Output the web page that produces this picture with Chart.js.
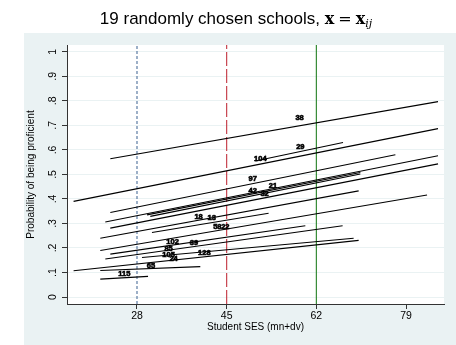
<!DOCTYPE html>
<html>
<head>
<meta charset="utf-8">
<script src="https://cdn.jsdelivr.net/npm/chart.js@4.4.1/dist/chart.umd.min.js"></script>
<style>
  html, body { margin: 0; padding: 0; background: #fff; }
  #wrap { width: 456px; height: 345px; }
</style>
</head>
<body>
<div id="wrap"><canvas id="chart" width="456" height="345"></canvas></div>
<script>
// ---------- DATA ----------
const X_MIN = 14.73;
const X_MAX = 86.2;
const Y_MIN = -0.0285;
const Y_MAX = 1.028;

const xTicks = [28, 45, 62, 79];
const yTicks = [0, 0.1, 0.2, 0.3, 0.4, 0.5, 0.6, 0.7, 0.8, 0.9, 1];
const yTickLabels = ["0", ".1", ".2", ".3", ".4", ".5", ".6", ".7", ".8", ".9", "1"];

// vertical reference lines (SES values)
const refValues = [28, 45, 62];

// one line per school: SES range and predicted probability at both ends
const lineX0 = [22.94, 15.98, 50.43, 22.94, 21.99, 22.94, 29.90, 30.52, 21.04, 21.04, 30.84, 15.98, 22.94, 21.99, 28.95, 21.04, 21.04];
const lineX1 = [85.07, 85.07, 67.06, 76.98, 85.07, 85.07, 70.34, 70.34, 70.02, 82.99, 52.95, 70.02, 59.91, 66.98, 69.07, 40.00, 30.09];
const lineP0 = [0.564, 0.390, 0.555, 0.345, 0.306, 0.281, 0.335, 0.329, 0.240, 0.190, 0.263, 0.107, 0.175, 0.155, 0.161, 0.108, 0.073];
const lineP1 = [0.797, 0.687, 0.630, 0.580, 0.576, 0.543, 0.508, 0.502, 0.433, 0.416, 0.342, 0.231, 0.291, 0.291, 0.240, 0.124, 0.084];

// school id labels
const schoolIds = ["38", "29", "104", "97", "42", "21", "32", "18", "13", "58", "22", "102", "39", "85", "105", "24", "128", "65", "115"];
const labelX = [58.83, 58.96, 51.38, 49.92, 49.92, 53.79, 52.19, 39.68, 42.15, 43.23, 44.74, 34.75, 38.81, 33.99, 33.99, 34.94, 40.76, 30.65, 25.59];
const labelY = [0.732, 0.614, 0.564, 0.481, 0.434, 0.455, 0.420, 0.326, 0.322, 0.285, 0.285, 0.223, 0.220, 0.195, 0.172, 0.155, 0.179, 0.125, 0.096];

// ---------- STYLE ----------
const SANS = "'Liberation Sans', Arial, sans-serif";
const SERIF = "'DejaVu Serif', 'Liberation Serif', serif";
const REGION_BG = "#eaf2f3";
const AXIS_COL = "#333333";
const refColors = ["#4d6f9c", "#c2323f", "#238023"];
const refDashes = [[3, 2], [14, 3], []];

// ---------- DATASETS ----------
const datasets = [];

lineX0.forEach((x0, i) => {
  datasets.push({
    data: [{ x: x0, y: lineP0[i] }, { x: lineX1[i], y: lineP1[i] }],
    showLine: true,
    borderColor: "#000",
    borderWidth: 1.1,
    pointRadius: 0,
  });
});

refValues.forEach((v, i) => {
  datasets.push({
    data: [{ x: v, y: Y_MIN }, { x: v, y: Y_MAX }],
    showLine: true,
    borderColor: refColors[i],
    borderWidth: 1.1,
    borderDash: refDashes[i],
    pointRadius: 0,
  });
});

// invisible points that carry the school id labels
datasets.push({
  data: labelX.map((x, i) => ({ x: x, y: labelY[i] })),
  showLine: false,
  pointRadius: 0,
});

// ---------- PLUGINS ----------
const backdrop = {
  id: "backdrop",
  beforeDraw(chart) {
    const { ctx, chartArea: a } = chart;
    ctx.save();
    ctx.fillStyle = "#fff";
    ctx.fillRect(0, 0, chart.width, chart.height);
    ctx.fillStyle = REGION_BG;
    ctx.fillRect(24, 33, chart.width - 24, chart.height - 33);
    ctx.fillStyle = "#fff";
    ctx.fillRect(a.left, a.top, a.right - a.left, a.bottom - a.top);
    ctx.restore();
  },
};

const titleDraw = {
  id: "titleDraw",
  afterDraw(chart) {
    const ctx = chart.ctx;
    const parts = [
      { t: "19 randomly chosen schools, ", f: "17px " + SANS, dy: 0, gap: 0 },
      { t: "x", f: "bold 16px " + SERIF, dy: 0, gap: 4 },
      { t: "=", f: "16px " + SERIF, dy: 0, gap: 4 },
      { t: "x", f: "bold 16px " + SERIF, dy: 0, gap: 0 },
      { t: "ij", f: "italic 11px " + SERIF, dy: 3, gap: 0 },
    ];
    ctx.save();
    ctx.fillStyle = "#000";
    ctx.textBaseline = "alphabetic";
    let total = 0;
    parts.forEach(p => { ctx.font = p.f; p.w = ctx.measureText(p.t).width + p.gap; total += p.w; });
    let x = 236 - total / 2;
    parts.forEach(p => {
      ctx.font = p.f;
      ctx.fillText(p.t, x, 24 + p.dy);
      x += p.w;
    });
    ctx.restore();
  },
};

const yTickText = {
  id: "yTickText",
  afterDraw(chart) {
    const ctx = chart.ctx;
    const ys = chart.scales.y;
    ctx.save();
    ctx.fillStyle = "#000";
    ctx.font = "10.5px " + SANS;
    ctx.textAlign = "center";
    ctx.textBaseline = "middle";
    yTicks.forEach((v, i) => {
      ctx.save();
      ctx.translate(53.5, ys.getPixelForValue(v));
      ctx.rotate(-Math.PI / 2);
      ctx.fillText(yTickLabels[i], 0, 0);
      ctx.restore();
    });
    ctx.restore();
  },
};

const idText = {
  id: "idText",
  afterDatasetsDraw(chart) {
    const ctx = chart.ctx;
    const meta = chart.getDatasetMeta(chart.data.datasets.length - 1);
    ctx.save();
    ctx.fillStyle = "#000";
    ctx.strokeStyle = "#000";
    ctx.lineWidth = 0.6;
    ctx.font = "bold 7.5px " + SANS;
    ctx.textAlign = "center";
    ctx.textBaseline = "middle";
    meta.data.forEach((pt, i) => {
      ctx.strokeText(schoolIds[i], pt.x, pt.y);
      ctx.fillText(schoolIds[i], pt.x, pt.y);
    });
    ctx.restore();
  },
};

// ---------- CHART ----------
new Chart(document.getElementById("chart"), {
  type: "scatter",
  data: { datasets: datasets },
  options: {
    responsive: false,
    animation: false,
    devicePixelRatio: 1,
    layout: { padding: { top: 45, right: 12, bottom: 0, left: 0 } },
    plugins: { legend: { display: false }, tooltip: { enabled: false }, title: { display: false } },
    scales: {
      x: {
        type: "linear",
        min: X_MIN,
        max: X_MAX,
        afterBuildTicks: s => { s.ticks = xTicks.map(v => ({ value: v })); },
        afterFit: s => { s.height = 41; },
        ticks: {
          color: "#000",
          font: { family: SANS, size: 10.5 },
          padding: 1,
          maxRotation: 0,
          autoSkip: false,
          callback: v => String(v),
        },
        grid: { drawOnChartArea: false, tickLength: 5, tickColor: AXIS_COL },
        border: { color: AXIS_COL, width: 1 },
        title: {
          display: true,
          text: "Student SES (mn+dv)",
          color: "#000",
          font: { family: SANS, size: 10 },
          padding: { top: 0, bottom: 11.5 },
        },
      },
      y: {
        type: "linear",
        min: Y_MIN,
        max: Y_MAX,
        afterBuildTicks: s => { s.ticks = yTicks.map(v => ({ value: v })); },
        afterFit: s => { s.width = 67; },
        ticks: { display: false },
        grid: { color: REGION_BG, lineWidth: 1, tickLength: 5, tickColor: AXIS_COL },
        border: { color: AXIS_COL, width: 1 },
        title: {
          display: true,
          text: "Probability of being proficient",
          color: "#000",
          font: { family: SANS, size: 10 },
          padding: { top: 25.5, bottom: 0 },
        },
      },
    },
  },
  plugins: [backdrop, titleDraw, yTickText, idText],
});
</script>
</body>
</html>
